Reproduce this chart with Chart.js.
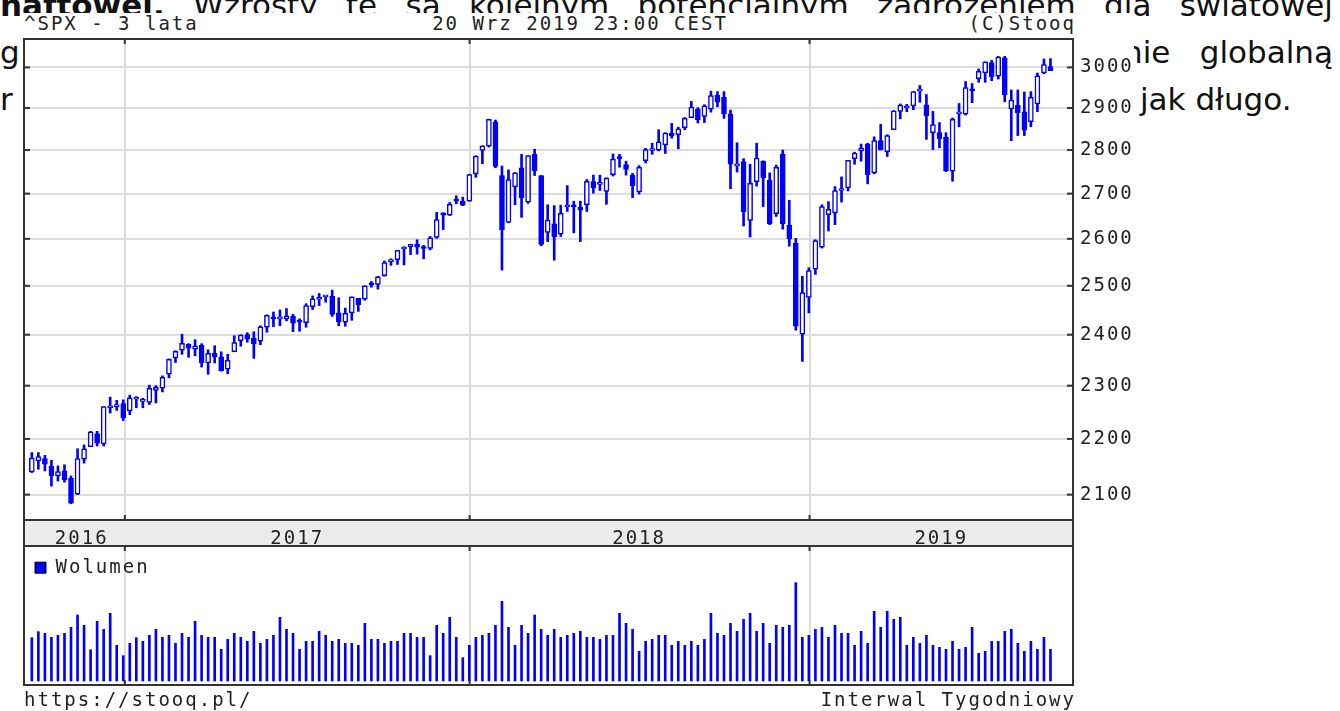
<!DOCTYPE html>
<html lang="pl">
<head>
<meta charset="utf-8">
<title>^SPX - 3 lata</title>
<script src="https://cdn.jsdelivr.net/npm/chart.js@4.4.1/dist/chart.umd.min.js"></script>
<style>
  html, body { margin: 0; padding: 0; background: #fff; }
  body { position: relative; width: 1340px; height: 711px; overflow: hidden; }
  .para { position: absolute; font-family: 'DejaVu Sans', sans-serif; font-size: 31px; line-height: 36px; color: #111; white-space: nowrap; }
  #line1 { left: 0; top: -13px; width: 1333px; text-align: justify; text-align-last: justify; white-space: normal; }
  #box { position: absolute; left: 21px; top: 13px; width: 1113px; height: 698px; background: #fff; }
  .mono { position: absolute; font-family: 'DejaVu Sans Mono', monospace; font-size: 19px; line-height: 22px; letter-spacing: 2px; color: #222; white-space: nowrap; }
  canvas { position: absolute; left: 0; }
</style>
</head>
<body>
<div class="para" id="line1"><b>naftowej.</b> Wzrosty te są kolejnym potencjalnym zagrożeniem dla światowej</div>
<div class="para" style="left:0; top:34px">g</div>
<div class="para" style="left:1123px; top:34px">nie</div>
<div class="para" style="right:7px; top:34px">globalną</div>
<div class="para" style="left:0; top:81px">r</div>
<div class="para" style="left:1140px; top:81px">jak długo.</div>

<div id="box">
  <div class="mono" style="left:3px; top:-1px">^SPX - 3 lata</div>
  <div class="mono" style="left:559px; top:-1px; transform:translateX(-50%)">20 Wrz 2019 23:00 CEST</div>
  <div class="mono" style="right:58px; top:-1px">(C)Stooq</div>
  <canvas id="price" width="1113" height="511" style="top:22px"></canvas>
  <canvas id="volume" width="1113" height="150" style="top:527px"></canvas>
  <div class="mono" style="left:3px; top:675px">https://stooq.pl/</div>
  <div class="mono" style="right:58px; top:675px">Interwal Tygodniowy</div>
</div>

<script>
// ^SPX, interwal tygodniowy, tydzien konczacy sie 23.09.2016 ... 20.09.2019
const firstWeek = '2016-09-23';

const opens = [
  2140, 2160, 2164, 2150, 2133, 2142, 2129, 2101, 2163, 2186, 2210, 2191, 2258, 2260, 2266,
  2252, 2274, 2270, 2268, 2291, 2295, 2322, 2354, 2369, 2381, 2371, 2379, 2344, 2363, 2356, 2332, 2366, 2388,
  2400, 2393, 2387, 2415, 2436, 2432, 2432, 2437, 2429, 2424, 2457, 2472, 2477, 2478, 2444, 2425, 2444, 2474,
  2472, 2503, 2503, 2521, 2551, 2555, 2578, 2583, 2588, 2580, 2579, 2603, 2657, 2652, 2685, 2683,
  2683, 2745, 2799, 2809, 2867, 2741, 2636, 2715, 2759, 2681, 2790, 2741, 2614, 2633, 2610, 2670, 2675, 2669,
  2675, 2727, 2721, 2705, 2743, 2781, 2766, 2742, 2704, 2775, 2799, 2800, 2812, 2840, 2836, 2853, 2877, 2897,
  2880, 2897, 2931, 2926, 2886, 2763, 2773, 2640, 2727, 2774, 2730, 2655, 2790, 2630, 2590, 2401,
  2476, 2535, 2582, 2653, 2657, 2707, 2713, 2780, 2798, 2814, 2747, 2822, 2796, 2848, 2892, 2900, 2905, 2941,
  2908, 2841, 2841, 2830, 2751, 2886, 2885, 2945, 2972, 2986, 3012, 2978, 3024, 2898, 2907, 2891, 2867, 2910,
  2986, 3002
];
const highs = [
  2175, 2175, 2170, 2161, 2151, 2153, 2133, 2182, 2189, 2214, 2214, 2260, 2278, 2272, 2273,
  2282, 2279, 2276, 2301, 2300, 2319, 2352, 2368, 2401, 2382, 2390, 2382, 2370, 2378, 2366, 2361, 2398, 2400,
  2404, 2406, 2418, 2440, 2446, 2450, 2453, 2441, 2432, 2463, 2479, 2484, 2480, 2491, 2475, 2454, 2477, 2474,
  2500, 2509, 2520, 2552, 2557, 2575, 2583, 2588, 2598, 2586, 2605, 2658, 2657, 2680, 2695, 2692,
  2744, 2787, 2810, 2873, 2871, 2763, 2754, 2748, 2790, 2787, 2802, 2741, 2675, 2673, 2674, 2718, 2683, 2683,
  2732, 2742, 2742, 2736, 2791, 2790, 2774, 2746, 2764, 2804, 2816, 2848, 2841, 2863, 2854, 2877, 2916, 2901,
  2908, 2941, 2940, 2940, 2895, 2817, 2780, 2767, 2816, 2775, 2747, 2765, 2800, 2685, 2601, 2520,
  2538, 2598, 2675, 2682, 2716, 2738, 2776, 2795, 2814, 2816, 2831, 2861, 2836, 2894, 2910, 2909, 2940, 2955,
  2933, 2892, 2865, 2841, 2876, 2911, 2965, 2960, 2996, 3014, 3018, 3028, 3028, 2944, 2944, 2939, 2940, 2986,
  3021, 3022
];
const lows = [
  2139, 2145, 2142, 2115, 2124, 2122, 2084, 2100, 2156, 2186, 2187, 2187, 2248, 2253, 2234,
  2245, 2258, 2258, 2264, 2267, 2288, 2315, 2345, 2361, 2355, 2358, 2336, 2322, 2344, 2328, 2323, 2366, 2377,
  2385, 2353, 2380, 2405, 2416, 2418, 2428, 2406, 2407, 2415, 2451, 2459, 2466, 2437, 2418, 2417, 2429, 2447,
  2470, 2497, 2493, 2520, 2543, 2545, 2544, 2566, 2567, 2557, 2576, 2601, 2620, 2651, 2677, 2673,
  2683, 2737, 2768, 2807, 2759, 2533, 2635, 2675, 2647, 2678, 2741, 2585, 2594, 2554, 2605, 2660, 2613, 2594,
  2660, 2701, 2707, 2676, 2740, 2760, 2742, 2691, 2699, 2770, 2790, 2798, 2792, 2828, 2803, 2848, 2877, 2864,
  2865, 2890, 2903, 2875, 2711, 2749, 2628, 2604, 2717, 2671, 2631, 2649, 2621, 2584, 2409, 2347,
  2444, 2524, 2580, 2617, 2631, 2681, 2706, 2767, 2774, 2722, 2745, 2800, 2785, 2848, 2874, 2891, 2896, 2914,
  2825, 2801, 2805, 2750, 2728, 2855, 2883, 2913, 2963, 2963, 2967, 2971, 2915, 2822, 2834, 2834, 2855, 2891,
  2984, 2992
];
const closes = [
  2165, 2168, 2154, 2133, 2141, 2126, 2085, 2164, 2182, 2213, 2192, 2260, 2258, 2264, 2239,
  2277, 2275, 2271, 2295, 2297, 2316, 2351, 2367, 2383, 2373, 2378, 2344, 2363, 2356, 2329, 2349, 2384, 2399,
  2391, 2382, 2416, 2439, 2432, 2433, 2438, 2423, 2425, 2459, 2473, 2472, 2477, 2441, 2426, 2443, 2477, 2461,
  2500, 2502, 2519, 2549, 2553, 2575, 2581, 2588, 2582, 2579, 2602, 2642, 2652, 2676, 2683, 2674,
  2743, 2786, 2810, 2873, 2762, 2620, 2732, 2747, 2691, 2787, 2752, 2588, 2641, 2604, 2656, 2670, 2670, 2663,
  2728, 2713, 2721, 2735, 2779, 2780, 2755, 2718, 2760, 2801, 2802, 2819, 2840, 2833, 2850, 2875, 2902, 2872,
  2905, 2930, 2914, 2886, 2767, 2768, 2659, 2723, 2781, 2736, 2633, 2760, 2633, 2600, 2417, 2486,
  2532, 2596, 2671, 2665, 2707, 2708, 2776, 2793, 2804, 2743, 2822, 2801, 2834, 2893, 2907, 2905, 2940, 2946,
  2881, 2860, 2826, 2752, 2873, 2887, 2950, 2942, 2990, 3014, 2977, 3026, 2932, 2919, 2889, 2847, 2926, 2979,
  3007, 2992
];
// wolumen tygodniowy (mld)
const volumes = [
  13.0, 14.8, 14.3, 13.1, 13.7, 14.3, 16.1, 19.8, 16.7, 9.4, 17.9, 15.5, 20.3, 10.7, 7.6,
  11.3, 13.0, 11.9, 13.7, 15.5, 13.1, 13.7, 11.3, 14.3, 13.1, 17.9, 13.7, 13.1, 13.1, 9.5, 12.5, 14.3, 13.1,
  11.9, 14.9, 11.3, 12.5, 13.7, 19.1, 15.5, 14.3, 9.5, 11.9, 11.9, 14.9, 13.7, 11.9, 12.5, 11.3, 11.3, 10.7,
  17.3, 12.5, 12.5, 11.3, 11.9, 11.9, 14.3, 14.3, 13.1, 13.1, 7.6, 16.7, 14.3, 19.1, 13.1, 7.0,
  10.7, 13.1, 13.7, 14.3, 16.7, 23.9, 16.1, 10.7, 16.7, 14.3, 19.8, 15.5, 13.7, 15.5, 13.1, 13.7, 14.3, 14.9,
  13.1, 13.1, 12.5, 13.7, 13.7, 20.3, 17.3, 15.5, 8.9, 11.9, 12.5, 13.7, 13.7, 10.7, 11.9, 10.7, 11.9, 10.7,
  12.5, 20.3, 14.3, 13.7, 17.3, 14.9, 18.5, 20.3, 14.9, 17.3, 11.3, 16.7, 16.1, 16.7, 29.5, 13.1,
  13.7, 15.5, 16.1, 13.1, 16.7, 14.3, 14.3, 10.7, 14.9, 11.3, 20.9, 16.1, 20.9, 18.5, 19.1, 10.7, 13.1, 11.3,
  13.7, 10.7, 10.1, 9.5, 11.9, 9.5, 10.1, 16.1, 8.3, 8.9, 11.9, 11.9, 14.9, 15.5, 11.3, 8.9, 11.9, 9.5,
  13.1, 9.5
];
const priceTicks = [2100, 2200, 2300, 2400, 2500, 2600, 2700, 2800, 2900, 3000];
const yearLabels = ['2016', '2017', '2018', '2019'];

const weeks = opens.map((_, i) => {
  const d = new Date(firstWeek + 'T12:00:00Z');
  d.setUTCDate(d.getUTCDate() + 7 * i);
  return d.toISOString().slice(0, 10);
});

// os czasu w numerach tygodni
const xMin = -1.2, xMax = 159.45;
const yearLinePos = [14.24, 67.04, 119.1];
const yearLabelPos = [7.64, 40.64, 93.0, 139.28];

const blue = '#0000ff';
const ink = '#222';
const gridColor = '#dcdcdc';
const font = { family: "'DejaVu Sans Mono', monospace", size: 19 };

// ramka wykresu, kreski podzialki i pasek z latami
const framePlugin = {
  id: 'frame',
  beforeDraw(chart) {
    const { ctx, chartArea: a } = chart;
    ctx.letterSpacing = '2px';
    const strip = chart.scales.x2;
    if (strip) {
      ctx.save();
      ctx.fillStyle = '#ebebeb';
      ctx.fillRect(a.left, strip.top, a.width, strip.bottom - strip.top);
      ctx.restore();
    }
  },
  afterDraw(chart) {
    const { ctx, chartArea: a, scales } = chart;
    const seg = (x1, y1, x2, y2) => { ctx.beginPath(); ctx.moveTo(x1, y1); ctx.lineTo(x2, y2); ctx.stroke(); };
    ctx.save();
    ctx.strokeStyle = '#333';
    ctx.lineWidth = 2;
    ctx.strokeRect(a.left, a.top, a.width, a.height);
    if (scales.y.options.display) {
      scales.y.ticks.forEach(t => {
        const py = scales.y.getPixelForValue(t.value);
        seg(a.left, py, a.left + 6, py);
        seg(a.right - 6, py, a.right, py);
      });
    }
    scales.x.ticks.forEach(t => {
      const px = scales.x.getPixelForValue(t.value);
      seg(px, a.top, px, a.top + 5);
      seg(px, a.bottom - 5, px, a.bottom);
    });
    if (scales.x2) {
      seg(a.left, a.bottom, a.left, scales.x2.bottom);
      seg(a.right, a.bottom, a.right, scales.x2.bottom);
    }
    ctx.restore();
  }
};

const noPad = s => { s.paddingLeft = 0; s.paddingRight = 0; s.paddingTop = 0; s.paddingBottom = 0; };

const timeAxis = () => ({
  type: 'linear',
  min: xMin,
  max: xMax,
  offset: false,
  afterBuildTicks: s => { s.ticks = yearLinePos.map(v => ({ value: v })); },
  afterFit: s => { s.height = 0; noPad(s); },
  ticks: { display: false },
  grid: { color: gridColor, lineWidth: 2, drawTicks: false, offset: false },
  border: { display: false }
});

new Chart(document.getElementById('price'), {
  type: 'bar',
  data: {
    datasets: [
      {
        label: 'korpus',
        data: opens.map((o, i) => ({ x: i, week: weeks[i], y: [Math.min(o, closes[i]), Math.max(o, closes[i])] })),
        backgroundColor: opens.map((o, i) => closes[i] >= o ? '#ffffff' : blue),
        borderColor: blue,
        borderWidth: 1.5,
        borderSkipped: false,
        barThickness: 5,
        minBarLength: 2,
        order: 0
      },
      {
        label: 'cien',
        data: lows.map((l, i) => ({ x: i, y: [l, highs[i]] })),
        backgroundColor: blue,
        borderWidth: 0,
        barThickness: 2,
        order: 1
      }
    ]
  },
  options: {
    responsive: false,
    animation: false,
    events: [],
    datasets: { bar: { grouped: false } },
    layout: { padding: { left: 3, top: 4, right: 0, bottom: 0 } },
    plugins: { legend: { display: false }, tooltip: { enabled: false } },
    scales: {
      x: timeAxis(),
      x2: {
        type: 'linear',
        position: 'bottom',
        min: xMin,
        max: xMax,
        offset: false,
        afterBuildTicks: s => { s.ticks = yearLabelPos.map(v => ({ value: v })); },
        afterFit: s => { s.height = 26; noPad(s); },
        ticks: { font, color: ink, padding: 0, maxRotation: 0, autoSkip: false, callback: (v, i) => yearLabels[i] },
        grid: { display: false },
        border: { display: false }
      },
      y: {
        type: 'logarithmic',
        position: 'right',
        min: 2056,
        max: 3072,
        afterBuildTicks: s => { s.ticks = priceTicks.map(v => ({ value: v })); },
        afterFit: s => { s.width = 61; noPad(s); },
        ticks: { font, color: ink, padding: 7, autoSkip: false, callback: v => String(v) },
        grid: { color: gridColor, lineWidth: 2, drawTicks: false },
        border: { display: false }
      }
    }
  },
  plugins: [framePlugin]
});

new Chart(document.getElementById('volume'), {
  type: 'bar',
  data: {
    datasets: [{
      label: 'Wolumen',
      data: volumes.map((v, i) => ({ x: i, y: v })),
      backgroundColor: blue,
      barThickness: 2
    }]
  },
  options: {
    responsive: false,
    animation: false,
    events: [],
    layout: { padding: { left: 3, right: 61, top: 6, bottom: 5 } },
    plugins: {
      tooltip: { enabled: false },
      legend: {
        position: 'chartArea',
        align: 'start',
        title: { display: true, text: '', padding: 0, font: { size: 6 } },
        labels: {
          font,
          color: ink,
          boxWidth: 11,
          boxHeight: 11,
          padding: 11,
          generateLabels: () => [{
            text: 'Wolumen', fillStyle: blue, strokeStyle: '#000', lineWidth: 1,
            fontColor: ink, hidden: false, datasetIndex: 0
          }]
        }
      }
    },
    scales: {
      x: timeAxis(),
      y: { display: false, min: -1.2, max: 40.5 }
    }
  },
  plugins: [framePlugin]
});
</script>
</body>
</html>
